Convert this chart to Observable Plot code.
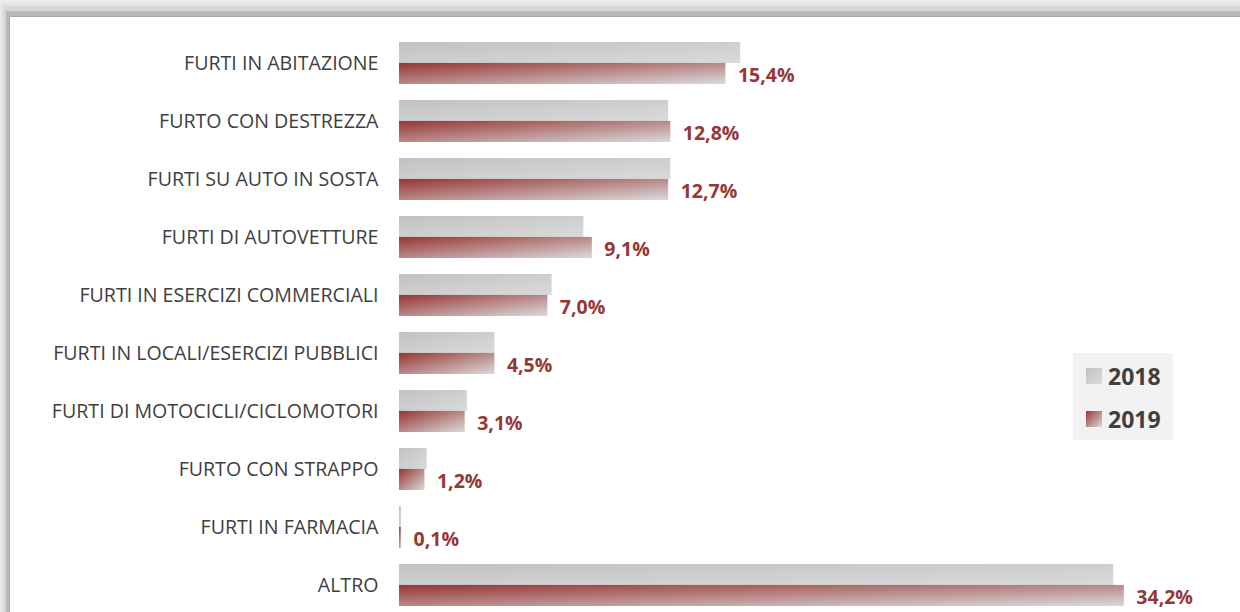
<!DOCTYPE html>
<html>
<head>
<meta charset="utf-8">
<script src="https://cdn.jsdelivr.net/npm/d3@7"></script>
<script src="https://cdn.jsdelivr.net/npm/@observablehq/plot@0.6"></script>
<style>
  html, body { margin: 0; padding: 0; }
  body { width: 1240px; height: 612px; overflow: hidden; position: relative; background: #ececec; font-family: "Open Sans", sans-serif; }
  #panel { position: absolute; left: 10px; top: 17px; width: 1300px; height: 700px; background: #fff;
    box-shadow: -1px -1px 0 #a9a9a9, -4px -6px 0 #b9b9b9, -7px -11px 0 #d8d8d8, -9px -14px 2px #e4e4e4; }
  #chart { position: absolute; left: 0; top: 0; }
  #legend { position: absolute; left: 1073px; top: 353px; width: 100px; height: 87px; background: #f2f2f2; }
  .li { position: absolute; left: 13px; display: flex; align-items: center; font-weight: 700; font-size: 23px; color: #404040; }
  .sw { width: 16px; height: 16px; margin-right: 6px; }
</style>
</head>
<body>
<div id="panel"></div>
<div id="chart"></div>
<div id="legend">
  <div class="li" style="top:7px"><div class="sw" style="background:linear-gradient(135deg,#c2c2c2,#dcdcdc)"></div>2018</div>
  <div class="li" style="top:50px"><div class="sw" style="background:linear-gradient(135deg,#963634,#dadada)"></div>2019</div>
</div>
<script>
const categories = [
  "FURTI IN ABITAZIONE",
  "FURTO CON DESTREZZA",
  "FURTI SU AUTO IN SOSTA",
  "FURTI DI AUTOVETTURE",
  "FURTI IN ESERCIZI COMMERCIALI",
  "FURTI IN LOCALI/ESERCIZI PUBBLICI",
  "FURTI DI MOTOCICLI/CICLOMOTORI",
  "FURTO CON STRAPPO",
  "FURTI IN FARMACIA",
  "ALTRO"
];
const values2018 = [16.1, 12.7, 12.8, 8.7, 7.2, 4.5, 3.2, 1.3, 0.1, 33.7];
const values2019 = [15.4, 12.8, 12.7, 9.1, 7.0, 4.5, 3.1, 1.2, 0.1, 34.2];

const rows = categories.map((c, i) => ({cat: c, v18: values2018[i], v19: values2019[i]}));
const fmt = v => v.toFixed(1).replace(".", ",") + "%";

const H = 612, mTop = 38.1, mBot = 3.1;
const step = (H - mTop - mBot) / 9.82;
const half = step * 0.72 / 2;

const plot = Plot.plot({
  width: 1240,
  height: H,
  marginLeft: 399,
  marginRight: 78,
  marginTop: mTop,
  marginBottom: mBot,
  style: {background: "transparent", fontFamily: "Open Sans, sans-serif"},
  x: {domain: [0, 36], axis: null},
  y: {domain: categories, paddingInner: 0.28, paddingOuter: 0.05, label: null},
  marks: [
    Plot.axisY({tickSize: 0, tickPadding: 21, fontSize: 19.6, fill: "#404040", label: null}),
    Plot.barX(rows, {x: "v18", y: "cat", fill: "url(#g2018)", insetBottom: half}),
    Plot.barX(rows, {x: "v19", y: "cat", fill: "url(#g2019)", insetTop: half}),
    Plot.text(rows, {x: "v19", y: "cat", text: d => fmt(d.v19), dx: 12, dy: half / 2 + 2,
      textAnchor: "start", fill: "#953735", fontWeight: "bold", fontSize: 19.5})
  ]
});

const ns = "http://www.w3.org/2000/svg";
const defs = document.createElementNS(ns, "defs");
function grad(id, c0, c1) {
  const g = document.createElementNS(ns, "linearGradient");
  g.setAttribute("id", id);
  g.setAttribute("x1", "0"); g.setAttribute("y1", "0");
  g.setAttribute("x2", "1"); g.setAttribute("y2", "1");
  [[0, c0], [1, c1]].forEach(([o, c]) => {
    const s = document.createElementNS(ns, "stop");
    s.setAttribute("offset", o);
    s.setAttribute("stop-color", c);
    g.appendChild(s);
  });
  defs.appendChild(g);
}
grad("g2018", "#c2c2c2", "#dadada");
grad("g2019", "#963634", "#dadada");
plot.insertBefore(defs, plot.firstChild);
document.getElementById("chart").appendChild(plot);
</script>
</body>
</html>
